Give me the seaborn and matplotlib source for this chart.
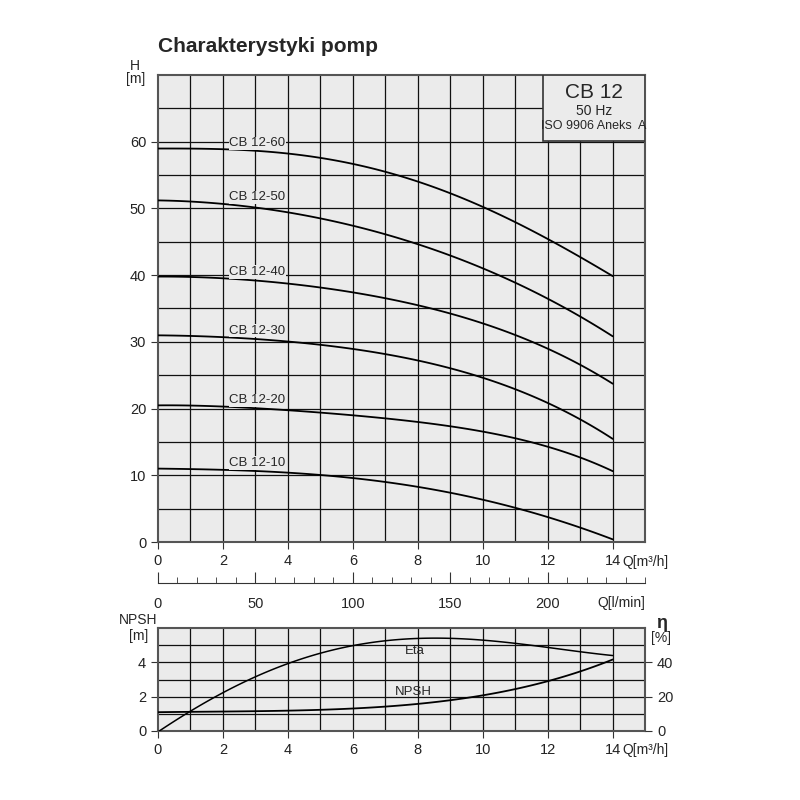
import matplotlib
matplotlib.use("Agg")
import matplotlib.pyplot as plt
from matplotlib.patches import Rectangle
import numpy as np
import pandas as pd
import seaborn as sns

# --- data ---
q_head = [0, 2, 4, 6, 8, 10, 12, 14]
h_60 = [59.0, 58.7, 58.3, 56.8, 53.8, 50.2, 45.5, 39.8]
h_50 = [51.2, 50.6, 49.4, 47.5, 44.5, 41.0, 36.5, 30.8]
h_40 = [39.8, 39.4, 38.8, 37.5, 35.3, 32.8, 29.0, 23.7]
h_30 = [31.0, 30.6, 30.0, 29.2, 27.0, 24.5, 21.0, 15.4]
h_20 = [20.5, 20.2, 19.8, 19.1, 17.8, 16.6, 14.3, 10.6]
h_10 = [11.0, 10.8, 10.4, 9.6, 8.2, 6.4, 3.7, 0.4]
models = ["CB 12-60", "CB 12-50", "CB 12-40", "CB 12-30", "CB 12-20", "CB 12-10"]

q_eta = [0, 1, 2, 3, 4, 5, 6, 7, 8, 9, 10, 11, 12, 13, 14]
eta = [0, 11, 22, 31, 40, 46, 50, 52.5, 53.5, 53.5, 52.5, 51, 49.5, 46.5, 43.5]
q_npsh = [0, 2, 4, 6, 8, 10, 12, 13, 14]
npsh = [1.1, 1.12, 1.2, 1.3, 1.6, 2.05, 2.9, 3.5, 4.15]

sns.set_style("white")
plt.rcParams["font.family"] = ["Liberation Sans", "DejaVu Sans"]
bg = "#ebebeb"
tick_col = "#333333"

fig = plt.figure(figsize=(8, 8), dpi=100)
fig.text(0.1975, 0.935, "Charakterystyki pomp", fontsize=15, fontweight="bold")


def smooth_df(x, y, name):
    # smooth curve through the read points (for drawing only)
    xs = np.linspace(x[0], x[-1], 120)
    c = np.polyfit(x, y, min(4, len(x) - 1))
    return pd.DataFrame({"Q": xs, "v": np.polyval(c, xs), "name": name})


def style_grid(ax, xmax, ymax, ystep):
    ax.set_facecolor(bg)
    for v in range(1, xmax):
        ax.axvline(v, color="#111111", lw=0.9, zorder=1)
    for v in np.arange(ystep, ymax, ystep):
        ax.axhline(v, color="#111111", lw=0.9, zorder=1)
    for s in ax.spines.values():
        s.set_color("#555555")
        s.set_linewidth(1.5)
    ax.tick_params(bottom=True, left=True, direction="out", length=5,
                   labelsize=10.5, color=tick_col, labelcolor="#222222")


# --- head curves ---
ax = fig.add_axes([0.1975, 0.3225, 0.609, 0.584])
heads = [h_60, h_50, h_40, h_30, h_20, h_10]
frames = pd.concat([smooth_df(q_head, h, m) for h, m in zip(heads, models)])
style_grid(ax, 15, 70, 5)
sns.lineplot(data=frames, x="Q", y="v", units="name", estimator=None,
             color="black", lw=1.3, ax=ax, zorder=3)
for h, m in zip(heads, models):
    ax.text(2.2, h[1] + 0.6, m, fontsize=9.5, zorder=4,
            bbox=dict(facecolor=bg, edgecolor="none", pad=0.5))
ax.set_xlim(0, 15)
ax.set_ylim(0, 70)
ax.set_xticks(range(0, 15, 2))
ax.set_yticks(range(0, 61, 10))
ax.set_xlabel("")
ax.set_ylabel("")
ax.text(14.3, -3.0, "Q[m³/h]", fontsize=10, ha="left", va="center", clip_on=False)
ax.text(-0.7, 70.3, "H\n[m]", fontsize=10, ha="center", va="center", linespacing=0.9)
ax.add_patch(Rectangle((11.85, 60.1), 3.15, 9.9, facecolor=bg, edgecolor="#333333",
                       lw=1.2, zorder=5))
ax.text(13.42, 67.3, "CB 12", ha="center", va="center", fontsize=15, zorder=6)
ax.text(13.42, 64.6, "50 Hz", ha="center", va="center", fontsize=10, zorder=6)
ax.text(13.42, 62.3, "ISO 9906 Aneks  A", ha="center", va="center", fontsize=9, zorder=6)

# --- l/min scale ---
ax2 = fig.add_axes([0.1975, 0.271, 0.609, 0.001])
for s in ["top", "left", "right"]:
    ax2.spines[s].set_visible(False)
ax2.spines["bottom"].set_color(tick_col)
ax2.set_xlim(0, 250)
ax2.set_xticks(range(0, 201, 50))
ax2.set_xticks(range(0, 251, 10), minor=True)
ax2.set_yticks([])
ax2.tick_params(axis="x", which="major", bottom=True, direction="in", length=8,
                labelsize=10.5, pad=10, color=tick_col)
ax2.tick_params(axis="x", which="minor", bottom=True, direction="in", length=4,
                color=tick_col)
ax2.text(1.0, -16, "Q[l/min]", fontsize=10, ha="right", va="top",
         transform=ax2.transAxes, clip_on=False)

# --- NPSH / eta ---
ax3 = fig.add_axes([0.1975, 0.08625, 0.609, 0.12875])
style_grid(ax3, 15, 6, 1)
npsh_df = smooth_df(q_npsh, npsh, "NPSH")
sns.lineplot(data=npsh_df, x="Q", y="v", color="black", lw=1.3, ax=ax3, zorder=3)
ax3.set_xlim(0, 15)
ax3.set_ylim(0, 6)
ax3.set_xticks(range(0, 15, 2))
ax3.set_yticks([0, 2, 4])
ax3.set_xlabel("")
ax3.set_ylabel("")
ax3.text(7.3, 2.1, "NPSH", fontsize=9.5, zorder=4)
ax3.text(7.6, 4.5, "Eta", fontsize=9.5, zorder=4)
ax3.text(14.3, -1.1, "Q[m³/h]", fontsize=10, ha="left", va="center", clip_on=False)
ax3.text(-0.6, 6.0, "NPSH\n[m]", fontsize=10, ha="center", va="center", linespacing=1.1)

ax4 = ax3.twinx()
eta_fine = smooth_df(q_eta, eta, "Eta")
sns.lineplot(data=eta_fine, x="Q", y="v", color="black", lw=1.1, ax=ax4, zorder=3)
ax4.set_ylim(0, 60)
ax4.set_yticks([0, 20, 40])
ax4.set_ylabel("")
ax4.tick_params(right=True, direction="out", length=5, labelsize=10.5, color=tick_col)
for s in ax4.spines.values():
    s.set_visible(False)
ax4.text(15.5, 62.5, "η", fontsize=13, fontweight="bold", ha="center", va="center")
ax4.text(15.5, 54, "[%]", fontsize=10, ha="center", va="center")

fig.savefig("out.png", dpi=100, facecolor="white")
